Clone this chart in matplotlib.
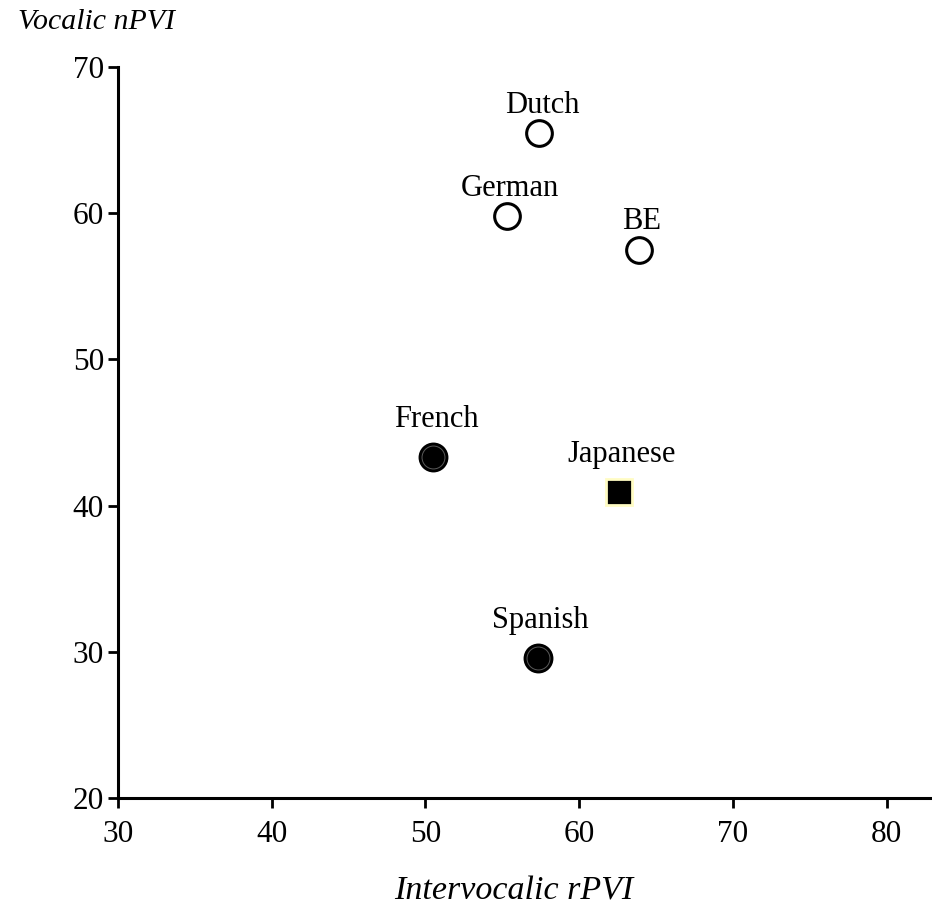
import matplotlib
matplotlib.use("Agg")
import matplotlib.pyplot as plt

# Rhythm metrics per language
languages = ["Dutch", "German", "BE", "French", "Japanese", "Spanish"]
rpvi = [57.4, 55.3, 63.9, 50.5, 62.6, 57.3]   # intervocalic rPVI
npvi = [65.5, 59.8, 57.5, 43.3, 40.9, 29.6]   # vocalic nPVI
rhythm_class = ["stress", "stress", "stress", "syllable", "mora", "syllable"]

x_ticks = [30, 40, 50, 60, 70, 80]
y_ticks = [20, 30, 40, 50, 60, 70]

plt.rcParams["font.family"] = ["Liberation Serif", "DejaVu Serif"]

fig = plt.figure(figsize=(9.32, 9.09), dpi=100)
ax = fig.add_axes([118 / 932, 1 - 798 / 909, 1 - 118 / 932, (798 - 67) / 909])

styles = {
    "stress": dict(marker="o", ms=18.5, mfc="white", mec="black", mew=2.2),
    "syllable": dict(marker="o", ms=19.5, mfc="black", mec="black", mew=2.0),
    "mora": dict(marker="s", ms=18.5, mfc="black", mec="#fffcc4", mew=2.0),
}
label_offset = {"stress": 20, "syllable": 27, "mora": 27}

for name, x, y, cls in zip(languages, rpvi, npvi, rhythm_class):
    ax.plot([x], [y], linestyle="none", **styles[cls], zorder=3)
    if cls == "syllable":
        # faint inner ring on the filled circles
        ax.plot([x], [y], linestyle="none", marker="o", ms=16.5, mfc="none",
                mec="#5a5a5a", mew=0.7, zorder=4)
    ax.annotate(name, (x, y), xytext=(2, label_offset[cls]),
                textcoords="offset points", ha="center", va="center",
                fontsize=22)

ax.set_xlim(30, 82.95)
ax.set_ylim(20, 70)
ax.set_xticks(x_ticks)
ax.set_yticks(y_ticks)
ax.tick_params(axis="both", labelsize=22.5, width=2, length=7, direction="out")
ax.tick_params(axis="x", pad=9)
ax.tick_params(axis="y", pad=3)

for side in ("top", "right"):
    ax.spines[side].set_visible(False)
for side in ("left", "bottom"):
    ax.spines[side].set_linewidth(2.2)
ax.spines["bottom"].set_bounds(30, 82.95)

fig.text(97 / 932, 1 - 22 / 909, "Vocalic nPVI", ha="center", va="center",
         fontsize=21.5, style="italic")
fig.text(514 / 932, 1 - 900 / 909, "Intervocalic rPVI", ha="center",
         va="baseline", fontsize=24.5, style="italic")

fig.savefig("out.png", dpi=100)
